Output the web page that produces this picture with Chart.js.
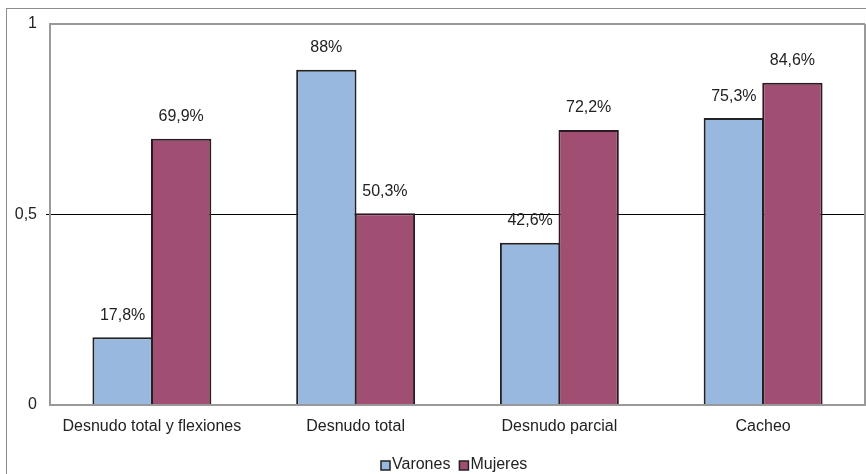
<!DOCTYPE html>
<html>
<head>
<meta charset="utf-8">
<script src="https://cdn.jsdelivr.net/npm/chart.js@4"></script>
<style>
  body { margin: 0; background: #fff; }
  #wrap { position: relative; width: 866px; height: 474px; overflow: hidden; }
  #frame { position: absolute; left: 6px; top: 8px; width: 900px; height: 500px; border: 1px solid #8c8c8c; }
  #c { position: absolute; left: 0; top: 0; }
</style>
</head>
<body>
<div id="wrap">
  <div id="frame"></div>
  <canvas id="c" width="866" height="474"></canvas>
</div>
<script>
// Data
const categories = ['Desnudo total y flexiones', 'Desnudo total', 'Desnudo parcial', 'Cacheo'];
const varones = [0.178, 0.88, 0.426, 0.753];
const mujeres = [0.699, 0.503, 0.722, 0.846];
const varonesLabels = ['17,8%', '88%', '42,6%', '75,3%'];
const mujeresLabels = ['69,9%', '50,3%', '72,2%', '84,6%'];
const yTicks = [0, 0.5, 1];

const FONT = 'Liberation Sans, Arial, sans-serif';

// draws the percentage text above every bar
const barLabels = {
  id: 'barLabels',
  afterDatasetsDraw(chart) {
    const ctx = chart.ctx;
    ctx.save();
    ctx.font = '16px ' + FONT;
    ctx.fillStyle = '#222';
    ctx.textAlign = 'center';
    ctx.textBaseline = 'middle';
    chart.data.datasets.forEach((ds, di) => {
      chart.getDatasetMeta(di).data.forEach((bar, i) => {
        ctx.fillText(ds.labelsText[i], bar.x, bar.y - 22);
      });
    });
    ctx.restore();
  }
};

// compact legend like the original (box glued to its text)
const tightLegend = {
  id: 'tightLegend',
  afterDraw(chart) {
    const ctx = chart.ctx;
    ctx.save();
    ctx.font = '16px ' + FONT;
    ctx.textBaseline = 'middle';
    ctx.textAlign = 'left';
    let x = 381;
    const y = 465;
    chart.data.datasets.forEach(ds => {
      ctx.fillStyle = ds.backgroundColor;
      ctx.fillRect(x, y - 4, 9, 9);
      ctx.strokeStyle = '#222';
      ctx.lineWidth = 1.5;
      ctx.strokeRect(x, y - 4, 9, 9);
      ctx.fillStyle = '#222';
      ctx.fillText(ds.label, x + 11, y);
      x += 11 + ctx.measureText(ds.label).width + 9;
    });
    ctx.restore();
  }
};

new Chart(document.getElementById('c'), {
  type: 'bar',
  data: {
    labels: categories,
    datasets: [
      {
        label: 'Varones',
        data: varones,
        labelsText: varonesLabels,
        backgroundColor: '#98b8e0',
        borderColor: '#222',
        borderWidth: 2,
        borderSkipped: 'bottom'
      },
      {
        label: 'Mujeres',
        data: mujeres,
        labelsText: mujeresLabels,
        backgroundColor: '#a04f72',
        borderColor: '#2a1a22',
        borderWidth: 2,
        borderSkipped: 'bottom'
      }
    ]
  },
  options: {
    responsive: false,
    animation: false,
    events: [],
    layout: { padding: { top: 24, right: 1, left: 0, bottom: 0 } },
    datasets: { bar: { categoryPercentage: 0.575, barPercentage: 1.03 } },
    plugins: {
      legend: { display: false },
      tooltip: { enabled: false }
    },
    scales: {
      x: {
        grid: { display: false },
        border: { color: '#999', width: 2 },
        ticks: { font: { family: FONT, size: 16 }, color: '#222', padding: 4, maxRotation: 0 },
        afterFit(s) { s.height = 69; }
      },
      y: {
        min: 0,
        max: 1,
        afterBuildTicks(s) { s.ticks = yTicks.map(v => ({ value: v })); },
        grid: {
          tickLength: 4,
          color: c => c.tick && c.tick.value === 0.5 ? '#000' : '#999',
          tickColor: c => c.tick && c.tick.value === 0.5 ? '#000' : 'rgba(0,0,0,0)',
          lineWidth: c => c.tick && c.tick.value === 0.5 ? 1 : 2
        },
        border: { color: '#999', width: 2 },
        ticks: {
          font: { family: FONT, size: 16 },
          color: '#222',
          padding: 9,
          callback: v => String(v).replace('.', ',')
        },
        afterFit(s) { s.width = 50; }
      }
    }
  },
  plugins: [barLabels, tightLegend, {
    id: 'rightEdge',
    afterDraw(chart) {
      const a = chart.chartArea, ctx = chart.ctx;
      ctx.save();
      ctx.strokeStyle = '#999';
      ctx.lineWidth = 2;
      ctx.beginPath();
      ctx.moveTo(a.right, a.top);
      ctx.lineTo(a.right, a.bottom);
      ctx.stroke();
      ctx.restore();
    }
  }]
});
</script>
</body>
</html>
